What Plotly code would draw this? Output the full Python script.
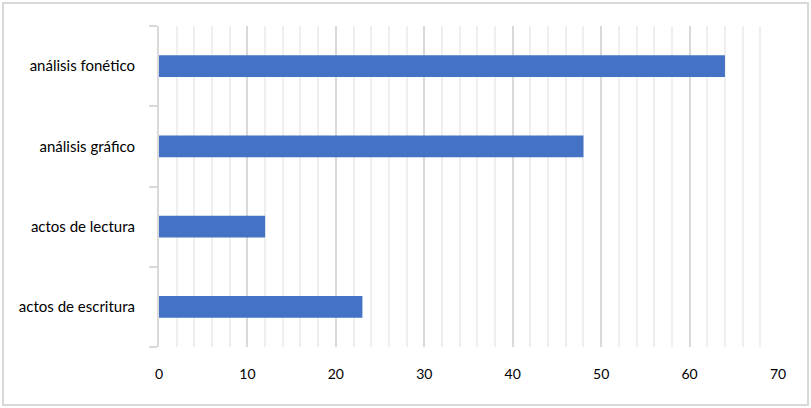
import plotly.graph_objects as go

categories = ["análisis fonético", "análisis gráfico", "actos de lectura", "actos de escritura"]
values = [64, 48, 12, 23]
x_ticks = [0, 10, 20, 30, 40, 50, 60, 70]

W, H = 811, 408
ml, mr, mt, mb = 159, 33, 26, 61
pw, ph = W - ml - mr, H - mt - mb

fig = go.Figure(go.Bar(
    x=values, y=categories, orientation="h",
    marker=dict(color="#4472c4", line=dict(width=0)),
    width=0.27,
))

fig.update_layout(
    width=W, height=H,
    margin=dict(l=ml, r=mr, t=mt, b=mb, autoexpand=False),
    paper_bgcolor="white", plot_bgcolor="white",
    font=dict(family="Lato, Open Sans, sans-serif", size=15, color="#000000"),
    showlegend=False,
    shapes=[dict(
        type="rect", xref="paper", yref="paper",
        x0=(3 - ml) / pw, x1=(808 - ml) / pw,
        y0=1 + (mt - 3) / ph, y1=-(mb - 3) / ph,
        line=dict(color="#d9d9d9", width=2), layer="below",
    )],
)

fig.update_xaxes(
    range=[0, 70], tickvals=x_ticks, ticktext=[str(v) for v in x_ticks],
    tickfont=dict(size=14),
    showgrid=True, gridcolor="#d9d9d9", gridwidth=2,
    minor=dict(dtick=2, showgrid=True, gridcolor="#efefef", gridwidth=2),
    zeroline=False, showline=False, ticks="",
    ticklabelstandoff=17, automargin=False,
)

fig.update_yaxes(
    categoryorder="array", categoryarray=categories[::-1],
    showgrid=False, zeroline=False,
    showline=True, linecolor="#d9d9d9", linewidth=2,
    ticks="outside", ticklen=8, tickcolor="#d9d9d9", tickwidth=2,
    tickson="boundaries",
    ticklabelstandoff=19, automargin=False,
)

fig.write_html(
    "out.html",
    config={"displayModeBar": False},
    post_script="document.body.style.margin='0';document.body.style.overflow='hidden';",
)
